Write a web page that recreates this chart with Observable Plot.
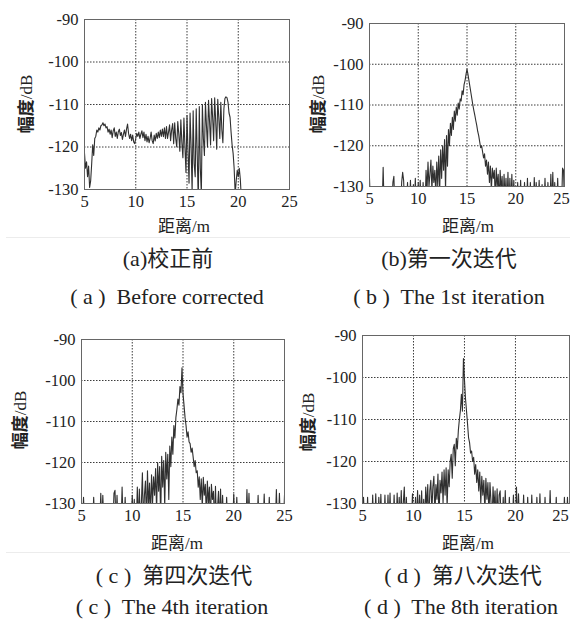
<!DOCTYPE html>
<html><head><meta charset="utf-8">
<script src="https://cdn.jsdelivr.net/npm/d3@7"></script>
<script src="https://cdn.jsdelivr.net/npm/@observablehq/plot@0.6"></script>
<style>
body{margin:0;background:#fff;}
#root{position:relative;width:570px;height:621px;overflow:hidden;background:#fff;}
.lbl{position:absolute;white-space:pre;transform:translate(-50%,-50%);color:#222;line-height:1;}
.lbl span{line-height:1;}
.ylab{transform:translate(-50%,-50%) rotate(-90deg);font-size:17px;}
.ylab .cj{font-family:"Noto Sans CJK SC",sans-serif;font-weight:700;}
.ser{font-family:"Liberation Serif","Times New Roman",Tinos,"DejaVu Serif",serif;}
.xlab{font-size:17px;}
.xlab .cj{font-family:"Noto Sans CJK SC",sans-serif;}
.cap{font-family:"Liberation Serif","Times New Roman",Tinos,"DejaVu Serif","Noto Sans CJK SC",serif;font-size:22px;}
.sep{position:absolute;left:6px;width:564px;height:0;border-top:1px solid #ececec;}
</style></head><body><div id="root"></div>
<script>
// tick values
const xTicks = [5, 10, 15, 20, 25];
const yTicks = [-130, -120, -110, -100, -90];

// amplitude (dB), sampled every 0.1 m starting at 5.0 m
const ampBefore = [
  -121.5,-125,-123.5,-127,-124.5,-129.5,-128,-124,-119.5,-122,
  -118,-117.5,-116,-116.5,-115.5,-116,-115,-114.8,-114.3,-115,
  -114.6,-115.5,-115.2,-116.5,-115.8,-117,-116,-117.8,-116.2,-115.5,
  -117.5,-116.5,-118,-116.4,-115.8,-117.3,-116.6,-118.2,-117,-116,
  -117.5,-115.8,-114.6,-116.8,-118,-117,-118.5,-117.2,-118.8,-119.2,
  -118,-116.8,-117.5,-116.5,-118,-117,-116.2,-117.8,-116.5,-118.5,
  -117,-118.8,-117.5,-119,-118,-116.5,-118.5,-119.2,-117.2,-118.6,
  -116.8,-118,-116.5,-117.8,-116,-117.5,-115.8,-117.6,-115.5,-118,
  -115.2,-118,-116.5,-114.8,-118.5,-116,-114.5,-119.2,-114.3,-118,
  -120,-114,-117,-121,-113.6,-119,-122.5,-113.2,-120,-126,
  -112.6,-121,-128.5,-112,-120,-130.5,-111.5,-124,-127,-111,
  -122,-133,-110.5,-125,-131,-110,-118,-122,-109.5,-115,
  -120,-109,-114,-119.5,-108.6,-113,-118.5,-108.4,-114,-120.5,
  -108.8,-113,-118,-109.5,-116,-119,-111,-108.6,-108.2,-108.4,
  -109.5,-112,-113,-116.5,-119.5,-121.5,-125,-131,-128,-125.5,
  -127,-125,-127.5,-132
];

const ampIter1 = [
  -128,-135,-135,-135,-135,-135,-135,-135,-135,-135,
  -135,-135,-135,-135,-125.3,-135,-135,-135,-135,-135,
  -135,-135,-135,-135,-129,-127.5,-135,-135,-135,-135,
  -135,-135,-135,-129,-126.5,-128.5,-135,-135,-135,-129,
  -135,-135,-128.5,-135,-135,-129.5,-135,-128,-135,-135,
  -129,-135,-128.5,-135,-135,-129,-135,-135,-126,-131,
  -124,-130,-127,-123.5,-131,-125,-129,-126,-132,-124,
  -130,-122.5,-131,-121,-128,-120,-126,-118.5,-131,-117.5,
  -125,-116,-120,-114.5,-117.5,-113,-116,-111.5,-114,-110.5,
  -112.5,-109.5,-111,-108.5,-109,-106.5,-107.5,-105,-104,-102.5,
  -101.2,-102.5,-104,-105.5,-107,-108.5,-110,-111.3,-112.5,-113.8,
  -115,-116.5,-117.5,-119,-120.5,-120,-121.5,-123,-122,-125,
  -123.5,-127,-124,-129,-125,-131,-125.5,-128,-126,-133,
  -125.5,-130,-127,-134,-126,-131,-127.5,-135,-127,-133,
  -128,-135,-126.5,-135,-128,-135,-127,-135,-128.5,-135,
  -135,-135,-129,-135,-135,-128.5,-135,-135,-135,-129,
  -135,-135,-128,-135,-135,-129,-135,-135,-135,-127.8,
  -135,-129,-135,-135,-128.5,-135,-135,-129.5,-135,-135,
  -128,-135,-135,-129,-135,-135,-127,-135,-126.5,-135,
  -129,-135,-135,-128,-135,-135,-135,-135,-125.5,-126,
  -135
];

const ampIter4 = [
  -135,-135,-128.5,-135,-135,-135,-135,-135,-135,-135,
  -135,-135,-128.5,-135,-135,-135,-135,-135,-135,-127.5,
  -135,-128,-135,-135,-135,-135,-135,-135,-135,-135,
  -135,-135,-127.5,-126.8,-135,-128,-135,-135,-135,-135,
  -126,-135,-135,-128.5,-135,-135,-135,-135,-135,-135,
  -128,-135,-129,-135,-135,-126,-135,-126.5,-135,-130,
  -122.5,-135,-128,-124.5,-135,-122,-131,-125,-133,-123,
  -130,-123.5,-128,-121.5,-132,-120,-127,-121,-134,-118.5,
  -126,-119.5,-131,-117.5,-124,-118,-129,-116,-121,-113.8,
  -118,-111,-114,-109,-107,-104.5,-106,-101.5,-103,-96.9,
  -103.2,-106,-109,-111,-113.8,-112.5,-115,-115.4,-117.5,-116.5,
  -118.7,-121,-119.5,-122.5,-122,-126,-123.5,-129,-124,-131,
  -123.6,-128,-125.3,-133,-124.5,-130,-126,-135,-125.3,-129,
  -127,-135,-125.8,-135,-131,-127,-135,-126.5,-135,-128,
  -135,-135,-135,-128.5,-135,-135,-135,-135,-135,-135,
  -127.7,-135,-135,-128.5,-135,-135,-135,-135,-135,-135,
  -135,-135,-135,-126.6,-135,-127.5,-135,-135,-135,-135,
  -135,-135,-135,-135,-128,-135,-135,-135,-135,-135,
  -127.7,-135,-135,-135,-135,-128.5,-135,-135,-135,-135,
  -135,-135,-126.6,-135,-135,-127.5,-135,-135,-135,-135,
  -128
];

const ampIter8 = [
  -135,-128.5,-135,-135,-135,-128.5,-135,-135,-135,-135,
  -128,-135,-135,-127.7,-135,-135,-128.5,-135,-127.8,-135,
  -135,-135,-128,-135,-135,-128,-135,-127.5,-135,-135,
  -135,-128,-135,-135,-127.5,-135,-128.5,-135,-126.9,-135,
  -130,-126.1,-135,-128.5,-135,-135,-135,-135,-135,-127.7,
  -135,-135,-128.5,-135,-126.9,-135,-128,-135,-127,-135,
  -129,-135,-126.1,-131,-125.5,-135,-127,-124.5,-132,-126,
  -123.5,-133,-125.5,-129,-123,-135,-124.5,-127.5,-122.5,-130,
  -122,-128,-121.5,-131,-122,-126,-120,-118.3,-124,-117,
  -115.9,-121,-114.5,-117,-112.6,-110,-107.9,-104,-108,-95.5,
  -100.5,-105,-107.9,-111,-114.3,-115.5,-118,-117.5,-120,-119,
  -123,-120.7,-125,-122,-127,-122.5,-130,-123.5,-128,-124.5,
  -132,-124,-129,-125,-133,-125,-129.5,-135,-126,-131,
  -127,-135,-126.5,-135,-128,-127,-135,-135,-128.5,-135,
  -126.9,-135,-135,-135,-128.5,-135,-135,-135,-128,-135,
  -135,-126.1,-135,-127.7,-135,-135,-135,-135,-128,-135,
  -135,-135,-128.5,-135,-135,-135,-128,-135,-135,-135,
  -135,-128.5,-135,-135,-127.7,-135,-135,-135,-135,-128.5,
  -135,-135,-135,-135,-126.9,-135,-135,-135,-135,-135,
  -128.5,-135,-135,-135,-135,-135,-135,-135,-128.5,-135,
  -135,-128.5,-135,-135
];

const yLabel = ["幅度", "/dB"];
const xLabel = ["距离", "/m"];
const capsCN = ["(a)校正前", "(b)第一次迭代", "( c )  第四次迭代", "( d )  第八次迭代"];
const capsEN = ["( a )  Before corrected", "( b )  The 1st iteration", "( c )  The 4th iteration", "( d )  The 8th iteration"];

const root = document.getElementById("root");
const SERIF = '"Liberation Serif","Times New Roman",Tinos,"DejaVu Serif",serif';

const panels = [
  {amps: ampBefore, left: 0,   top: 0,   w: 295, h: 215, ml: 84, mr: 6, mt: 19, mb: 26, xmax: 25,   lastDx: 0,  ylx: 25,  yly: 104, xlx: 184, xly: 225},
  {amps: ampIter1,  left: 285, top: 0,   w: 285, h: 215, ml: 84, mr: 6, mt: 23, mb: 29, xmax: 25,   lastDx: -3, ylx: 317, yly: 104, xlx: 468, xly: 225},
  {amps: ampIter4,  left: 0,   top: 310, w: 290, h: 215, ml: 81, mr: 6, mt: 29, mb: 22, xmax: 25,   lastDx: 0,  ylx: 19,  yly: 420, xlx: 177, xly: 542},
  {amps: ampIter8,  left: 285, top: 310, w: 285, h: 215, ml: 77, mr: 1, mt: 25, mb: 22, xmax: 25.3, lastDx: -6, ylx: 307, yly: 422, xlx: 468, xly: 542}
];

function addLabel(cls, html, x, y) {
  const d = document.createElement("div");
  d.className = "lbl " + cls;
  d.innerHTML = html;
  d.style.left = x + "px";
  d.style.top = y + "px";
  root.appendChild(d);
}

panels.forEach(p => {
  const data = p.amps.map((a, i) => ({d: Math.round(50 + i) / 10, a}));
  const svg = Plot.plot({
    width: p.w, height: p.h,
    marginLeft: p.ml, marginRight: p.mr, marginTop: p.mt, marginBottom: p.mb,
    x: {domain: [5, p.xmax]},
    y: {domain: [-130, -90]},
    style: {fontFamily: SERIF, fontSize: "16.5px", color: "#222", background: "transparent", overflow: "visible"},
    marks: [
      Plot.gridX(xTicks.filter(t => t > 5 && t < 25), {stroke: "#1a1a1a", strokeOpacity: 0.85, strokeDasharray: "1.5,1.5"}),
      Plot.gridY(yTicks.filter(t => t > -130 && t < -90), {stroke: "#1a1a1a", strokeOpacity: 0.85, strokeDasharray: "1.5,1.5"}),
      Plot.line(data, {x: "d", y: "a", stroke: "#303030", strokeWidth: 1.1, clip: true}),
      Plot.frame({stroke: "#666", strokeWidth: 1}),
      Plot.axisX(xTicks.slice(0, -1), {tickSize: 0, tickPadding: 6, tickFormat: d => String(d), label: null, fontFamily: SERIF}),
      Plot.axisX(xTicks.slice(-1), {tickSize: 0, tickPadding: 6, tickFormat: d => String(d), label: null, dx: p.lastDx, fontFamily: SERIF}),
      Plot.axisY(yTicks, {tickSize: 0, tickPadding: 6, tickFormat: d => String(d), label: null, fontFamily: SERIF})
    ]
  });
  svg.style.position = "absolute";
  svg.style.left = p.left + "px";
  svg.style.top = p.top + "px";
  svg.style.maxWidth = "none";
  svg.style.fontFamily = SERIF;
  root.appendChild(svg);
  addLabel("ylab", `<span class="cj">${yLabel[0]}</span><span class="ser">${yLabel[1]}</span>`, p.ylx, p.yly);
  addLabel("xlab", `<span class="cj">${xLabel[0]}</span><span class="ser">${xLabel[1]}</span>`, p.xlx, p.xly);
});

// separators under each row
[237, 552].forEach(y => {
  const s = document.createElement("div");
  s.className = "sep";
  s.style.top = y + "px";
  root.appendChild(s);
});

const capPos = [[168, 259, 167, 297], [449, 259, 449, 297], [174, 576, 172, 607], [463, 576, 461, 607]];
capPos.forEach((c, i) => {
  addLabel("cap", capsCN[i], c[0], c[1]);
  addLabel("cap", capsEN[i], c[2], c[3]);
});
</script>
</body></html>
